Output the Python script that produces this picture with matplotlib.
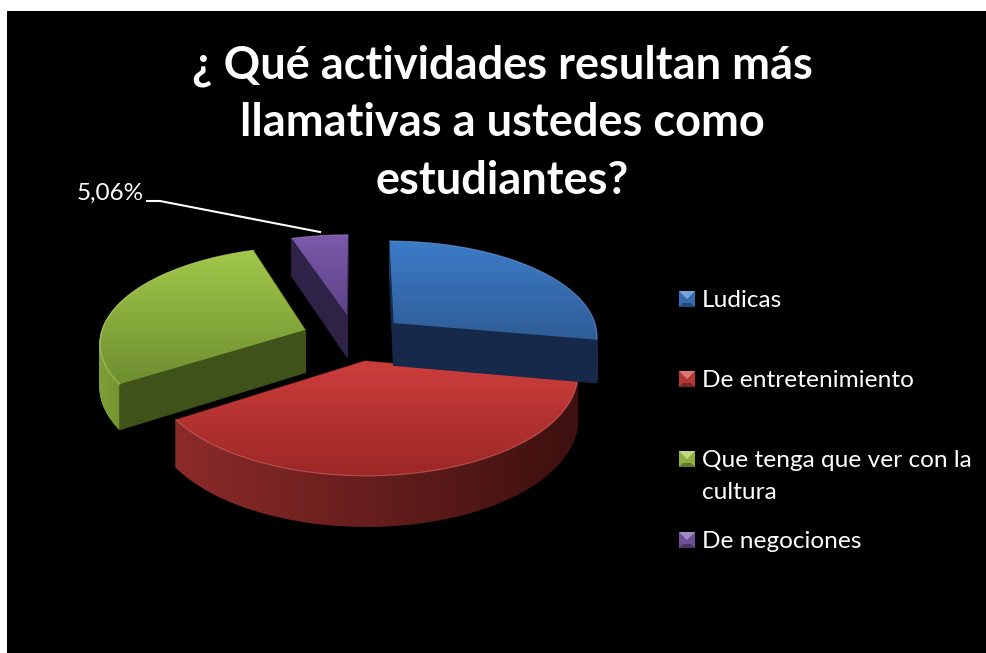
import numpy as np
import matplotlib
matplotlib.use("Agg")
import matplotlib.pyplot as plt
from matplotlib.patches import Polygon, Rectangle
from matplotlib.colors import LinearSegmentedColormap, to_rgb

# ---- data ----
title_text = "¿ Qué actividades resultan más\nllamativas a ustedes como\nestudiantes?"
categories = ["Ludicas", "De entretenimiento", "Que tenga que ver con la\ncultura", "De negociones"]
values = [27.85, 37.97, 29.11, 5.06]

# ---- style ----
top_light = ["#3c7bc8", "#cc3e3c", "#a2c84a", "#7d59ab"]
top_dark = ["#2f5d96", "#9c2725", "#6e8e30", "#5d4386"]
rim_light = ["#1b3358", "#8c2b29", "#7d9f36", "#35274f"]
rim_dark = ["#152846", "#3d100f", "#3f5219", "#2a1f3e"]
cut_color = ["#16294a", "#5a1715", "#3f5219", "#2e2246"]
label_pos = [(490, 285), (410, 440), (178, 310), (110, 193)]
legend_y = [299, 379, 459, 540]
explode = [0.25, 0.24, 0.26, 0.25]
draw_order = [3, 2, 1, 0]

CX, CY, RX, RY, K, DEPTH = 355, 338, 205, 95, 0.12, 43
FONT = "Lato"

fig = plt.figure(figsize=(9.87, 6.53), dpi=100, facecolor="white")
ax = fig.add_axes([0, 0, 1, 1])
ax.set_xlim(0, 987)
ax.set_ylim(653, 0)
ax.axis("off")
ax.add_patch(Rectangle((7, 11), 980, 642, facecolor="black", edgecolor="none", zorder=0))


def project(u, v, drop=0.0):
    s = 1.0 / (1.0 + K * v)
    return CX + RX * u * s, CY - RY * v * s + drop * DEPTH * s


def lerp(c1, c2, t):
    a, b = np.array(to_rgb(c1)), np.array(to_rgb(c2))
    return tuple(a + (b - a) * t)


z = 10


def wall(us, vs, color):
    global z
    z += 1
    top = [project(u, v) for u, v in zip(us, vs)]
    bot = [project(u, v, 1) for u, v in zip(us, vs)]
    ax.add_patch(Polygon(top + bot[::-1], closed=True, facecolor=color,
                         edgecolor=color, lw=0.9, zorder=z))


fractions = np.array(values) / np.sum(values)
edges = np.concatenate([[0], np.cumsum(fractions)]) * 2 * np.pi
for i in draw_order:
    a0, a1 = edges[i], edges[i + 1]
    mid = (a0 + a1) / 2
    eu, ev = explode[i] * np.sin(mid), explode[i] * np.cos(mid)
    th = np.linspace(a0, a1, max(int(np.degrees(a1 - a0)), 3) + 1)
    au, av = eu + np.sin(th), ev + np.cos(th)

    cut0 = ([eu, au[0]], [ev, av[0]], cut_color[i])
    cut1 = ([eu, au[-1]], [ev, av[-1]], cut_color[i])
    front0 = np.sin(a0) < -1e-6
    front1 = np.sin(a1) > 1e-6
    if not front0:
        wall(*cut0)
    if not front1:
        wall(*cut1)
    xs = np.array([project(u, v)[0] for u, v in zip(au, av)])
    for j in range(len(th) - 1):
        t = (xs[j] - xs.min()) / (xs.max() - xs.min())
        wall(au[j:j + 2], av[j:j + 2], lerp(rim_light[i], rim_dark[i], t))
    if front0:
        wall(*cut0)
    if front1:
        wall(*cut1)

    pts = [project(eu, ev)] + [project(u, v) for u, v in zip(au, av)]
    arr = np.array(pts)
    z += 1
    cmap = LinearSegmentedColormap.from_list("t", [top_light[i], top_dark[i]])
    im = ax.imshow(np.linspace(0, 1, 128).reshape(-1, 1), cmap=cmap, aspect="auto",
                   extent=[arr[:, 0].min(), arr[:, 0].max(), arr[:, 1].max(), arr[:, 1].min()],
                   zorder=z, interpolation="bilinear")
    im.set_clip_path(Polygon(pts, closed=True, transform=ax.transData))
    z += 1
    rim_hi = lerp(top_light[i], "#ffffff", 0.25)
    ax.plot(arr[1:, 0], arr[1:, 1], color=rim_hi, lw=0.9, alpha=0.55, zorder=z)

ax.set_xlim(0, 987)
ax.set_ylim(653, 0)

# data labels
for v, (x, y) in zip(values, label_pos):
    ax.text(x, y, f"{v:.2f}%".replace(".", ","), color="white", fontsize=17.5,
            family=FONT, ha="center", va="center", zorder=100)
ax.plot([147, 160, 320], [201, 201, 232], color="white", lw=1.5, zorder=100)

# legend
for i, (name, y) in enumerate(zip(categories, legend_y)):
    x0, x1, y0, y1 = 679, 695, y - 8, y + 8
    xm, ym = (x0 + x1) / 2, y
    base = top_light[i]
    ax.add_patch(Rectangle((x0, y0), 16, 16, facecolor=lerp(base, "#000000", 0.12),
                           edgecolor="none", zorder=100))
    ax.add_patch(Polygon([(x0, y0), (x1, y0), (xm, ym)], facecolor=lerp(base, "#ffffff", 0.3),
                         edgecolor="none", zorder=101))
    ax.add_patch(Polygon([(x0, y1), (x1, y1), (xm + 4, y1 - 4), (xm - 4, y1 - 4)],
                         facecolor=lerp(base, "#000000", 0.4), edgecolor="none", zorder=101))
    ax.text(702, y0 - 1, name, color="white", fontsize=17.6, family=FONT, ha="left", va="top",
            linespacing=1.62, zorder=101)

# title
ax.text(502, 123, title_text, color="white", fontsize=32.5, fontweight="bold", family=FONT,
        ha="center", va="center", linespacing=1.46, zorder=5)

fig.savefig("out.png", dpi=100, facecolor="white")
